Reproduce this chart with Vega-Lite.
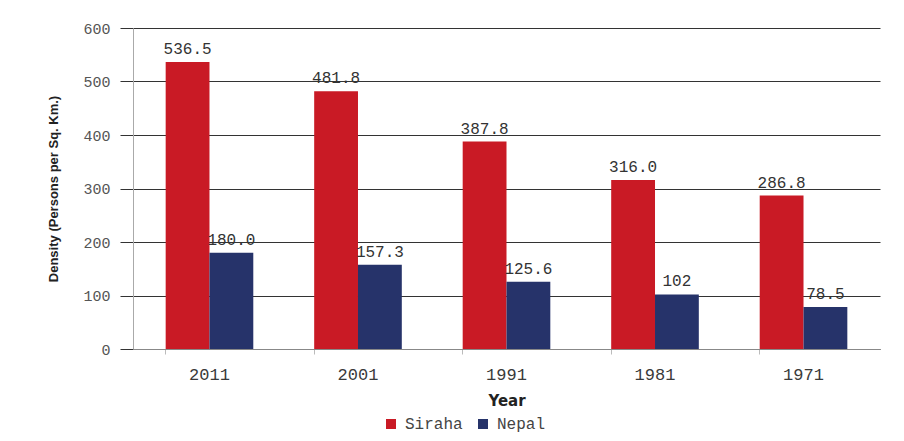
{
  "$schema": "https://vega.github.io/schema/vega-lite/v6.json",
  "autosize": "none",
  "width": 747,
  "height": 321,
  "padding": {"left": 133, "top": 28, "right": 24, "bottom": 92},
  "background": "white",
  "config": {
    "view": {"stroke": null},
    "font": "Liberation Sans"
  },
  "data": {
    "values": [
      {"year": "2011", "series": "Siraha", "density": 536.5, "label": "536.5"},
      {"year": "2011", "series": "Nepal", "density": 180.0, "label": "180.0"},
      {"year": "2001", "series": "Siraha", "density": 481.8, "label": "481.8"},
      {"year": "2001", "series": "Nepal", "density": 157.3, "label": "157.3"},
      {"year": "1991", "series": "Siraha", "density": 387.8, "label": "387.8"},
      {"year": "1991", "series": "Nepal", "density": 125.6, "label": "125.6"},
      {"year": "1981", "series": "Siraha", "density": 316.0, "label": "316.0"},
      {"year": "1981", "series": "Nepal", "density": 102, "label": "102"},
      {"year": "1971", "series": "Siraha", "density": 286.8, "label": "286.8"},
      {"year": "1971", "series": "Nepal", "density": 78.5, "label": "78.5"}
    ]
  },
  "encoding": {
    "x": {
      "field": "year",
      "type": "nominal",
      "sort": null,
      "scale": {"paddingInner": 0.41, "paddingOuter": 0.22},
      "axis": {
        "title": "Year",
        "titleFont": "DejaVu Sans",
        "titleFontSize": 15,
        "titleFontWeight": "bold",
        "titleColor": "#222",
        "titlePadding": 11,
        "labelFont": "Liberation Mono",
        "labelFontSize": 17,
        "labelColor": "#3a3a3a",
        "labelAngle": 0,
        "labelPadding": 12,
        "domainColor": "#888",
        "tickColor": "#bbb",
        "tickSize": 5,
        "bandPosition": 0
      }
    },
    "xOffset": {"field": "series", "type": "nominal", "sort": ["Siraha", "Nepal"]},
    "y": {
      "field": "density",
      "type": "quantitative",
      "scale": {"domain": [0, 600], "nice": false},
      "axis": {
        "title": "Density (Persons per Sq. Km.)",
        "titleFont": "Liberation Sans",
        "titleFontSize": 13,
        "titleFontWeight": "bold",
        "titleColor": "#222",
        "titlePadding": 22,
        "values": [0, 100, 200, 300, 400, 500, 600],
        "labelFont": "Liberation Mono",
        "labelFontSize": 15,
        "labelColor": "#555",
        "labelPadding": 10,
        "tickSize": 13,
        "tickColor": "#333",
        "domainColor": "#aaa",
        "gridColor": "#333",
        "gridWidth": 1
      }
    },
    "color": {
      "field": "series",
      "type": "nominal",
      "sort": ["Siraha", "Nepal"],
      "scale": {"domain": ["Siraha", "Nepal"], "range": ["#C91A25", "#26336A"]},
      "legend": {
        "title": null,
        "orient": "none",
        "direction": "horizontal",
        "legendX": 250,
        "legendY": 388,
        "symbolType": "square",
        "symbolSize": 100,
        "symbolStrokeWidth": 0,
        "labelFont": "Liberation Mono",
        "labelFontSize": 16,
        "labelColor": "#444",
        "labelOffset": 6,
        "columnPadding": 12
      }
    }
  },
  "layer": [
    {"mark": {"type": "bar"}},
    {
      "mark": {"type": "text", "dy": -13, "font": "Liberation Mono", "fontSize": 16, "color": "#333"},
      "encoding": {
        "text": {"field": "label"},
        "color": {"value": "#333"}
      }
    }
  ]
}
